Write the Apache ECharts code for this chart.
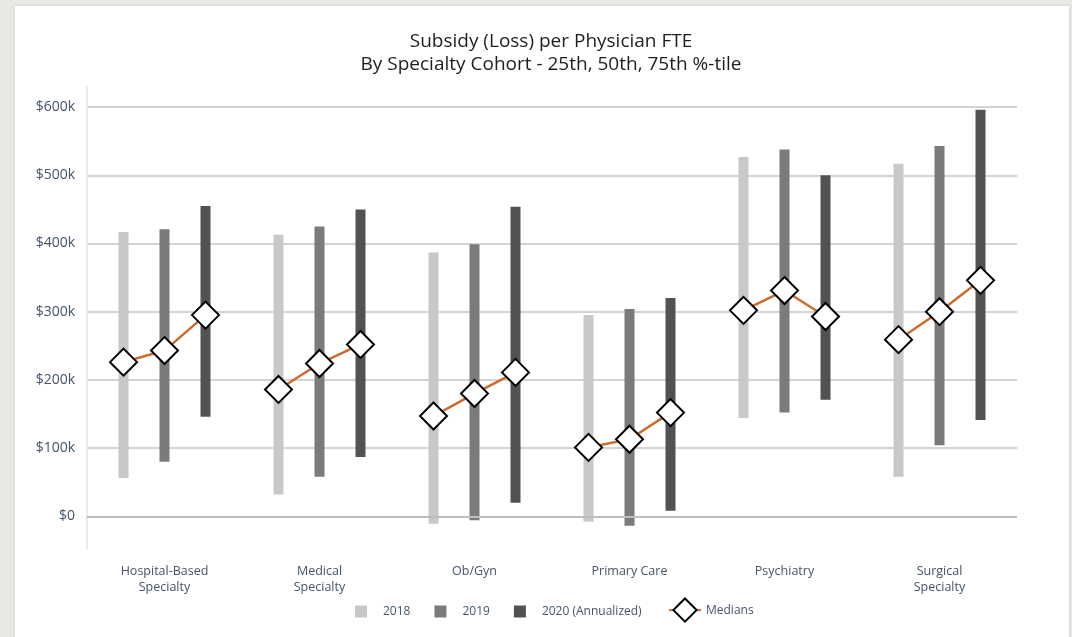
<!DOCTYPE html>
<html><head><meta charset="utf-8">
<script src="https://cdn.jsdelivr.net/npm/echarts@6/dist/echarts.min.js"></script>
<style>
html,body{margin:0;padding:0;background:#e8e8e3;width:1072px;height:637px;overflow:hidden}
#panel{position:absolute;left:15px;top:6px;width:1054px;height:640px;background:#fff;box-shadow:0 0 3px rgba(0,0,0,0.12)}
#chart{position:absolute;left:0;top:0;width:1072px;height:637px}
</style></head><body>
<div id="panel"></div><div id="chart"></div>
<script>
// ---- data (US dollars) ----
const categories = ['Hospital-Based\nSpecialty', 'Medical\nSpecialty', 'Ob/Gyn', 'Primary Care', 'Psychiatry', 'Surgical\nSpecialty'];
const years = ['2018', '2019', '2020 (Annualized)'];
const p25_2018 = [56000, 32000, -11000, -8000, 144000, 58000];
const p75_2018 = [417000, 413000, 387000, 295000, 527000, 517000];
const med_2018 = [226000, 186000, 147000, 101000, 302000, 259000];
const p25_2019 = [80000, 58000, -6000, -14000, 152000, 104000];
const p75_2019 = [421000, 425000, 399000, 304000, 538000, 543000];
const med_2019 = [243000, 224000, 180000, 113000, 331000, 300000];
const p25_2020 = [146000, 87000, 20000, 8000, 171000, 141000];
const p75_2020 = [455000, 450000, 454000, 320000, 500000, 596000];
const med_2020 = [295000, 252000, 211000, 152000, 293000, 346000];
const yTicks = [0, 100000, 200000, 300000, 400000, 500000, 600000];

// ---- layout / style ----
const W = 1072, GRID_L = 87, GRID_R = 55, GRID_T = 86, GRID_B = 88;
const BAR_W = 10, BAR_SPACE = 31;
const colors = ['#c8c8c8', '#7b7b7b', '#525252'];
const txt = '#44546a';
const FONT = 'Open Sans';

const lows = [p25_2018, p25_2019, p25_2020];
const highs = [p75_2018, p75_2019, p75_2020];
const meds = [med_2018, med_2019, med_2020];

const series = [];
years.forEach((y, k) => {
  const base = {
    name: 'base' + k, type: 'bar', stack: 's' + k, stackStrategy: 'all',
    barWidth: BAR_W, barGap: (BAR_SPACE / BAR_W * 100) + '%',
    itemStyle: { color: 'rgba(0,0,0,0)' }, silent: true, data: lows[k]
  };
  if (k === 0) {
    base.markLine = {
      silent: true, symbol: ['none', 'none'], label: { show: false },
      lineStyle: { color: '#bdbdbd', width: 2, type: 'solid' },
      data: [{ yAxis: 0 }]
    };
  }
  series.push(base);
  series.push({
    name: y, type: 'bar', stack: 's' + k, stackStrategy: 'all',
    barWidth: BAR_W, barGap: (BAR_SPACE / BAR_W * 100) + '%',
    itemStyle: { color: colors[k] }, z: 3,
    data: highs[k].map((h, i) => h - lows[k][i])
  });
});

const band = (W - GRID_L - GRID_R) / categories.length;
const off = (BAR_W + BAR_SPACE) / band;
const medData = [];
categories.forEach((c, i) => {
  meds.forEach((m, k) => medData.push([i + (k - 1) * off, m[i]]));
  medData.push([i + 0.5, null]);
});
series.push({
  name: 'Medians', type: 'line', xAxisIndex: 1, z: 5,
  symbol: 'diamond', symbolSize: 27, connectNulls: false,
  lineStyle: { color: '#cc6b2c', width: 2.5 },
  itemStyle: { color: '#ffffff', borderColor: '#000000', borderWidth: 2 },
  data: medData
});

const chart = echarts.init(document.getElementById('chart'), null, { renderer: 'canvas' });
chart.setOption({
  animation: false,
  backgroundColor: 'transparent',
  textStyle: { fontFamily: FONT },
  title: {
    text: 'Subsidy (Loss) per Physician FTE\nBy Specialty Cohort - 25th, 50th, 75th %-tile',
    left: 551, top: 30, padding: 0, textAlign: 'center',
    textStyle: { fontFamily: FONT, fontSize: 19, fontWeight: 'normal', color: '#1e1e1e', lineHeight: 23 }
  },
  legend: [
    {
      data: years, left: 355, top: 605.5, padding: 0, icon: 'rect',
      itemWidth: 12, itemHeight: 12, itemGap: 24,
      textStyle: { fontFamily: FONT, fontSize: 12, color: txt, padding: [0, 0, 0, 11] }
    },
    {
      data: ['Medians'], left: 668, top: 597.5, padding: 0,
      itemWidth: 32, itemHeight: 29,
      textStyle: { fontFamily: FONT, fontSize: 12, color: txt }
    }
  ],
  grid: { left: GRID_L, right: GRID_R, top: GRID_T, bottom: GRID_B, containLabel: false },
  xAxis: [
    {
      type: 'category', data: categories, boundaryGap: true,
      axisLine: { show: false, onZero: false }, axisTick: { show: false },
      axisLabel: { color: txt, fontSize: 12.5, lineHeight: 16, margin: 14, fontFamily: FONT, interval: 0 },
      splitLine: { show: false }
    },
    { type: 'value', show: false, min: -0.5, max: categories.length - 0.5 }
  ],
  yAxis: {
    type: 'value', min: -48000, max: 631000,
    axisLine: { show: true, onZero: false, lineStyle: { color: '#dfe5f1', width: 1.5 } },
    axisTick: { show: false, customValues: yTicks },
    axisLabel: {
      customValues: yTicks, color: txt, fontSize: 14, margin: 12, fontFamily: FONT,
      formatter: v => v === 0 ? '$0' : '$' + (v / 1000) + 'k'
    },
    splitLine: { show: true, lineStyle: { color: '#c4c4c4', width: 1.5 } }
  },
  series: series
});
</script>
</body></html>
